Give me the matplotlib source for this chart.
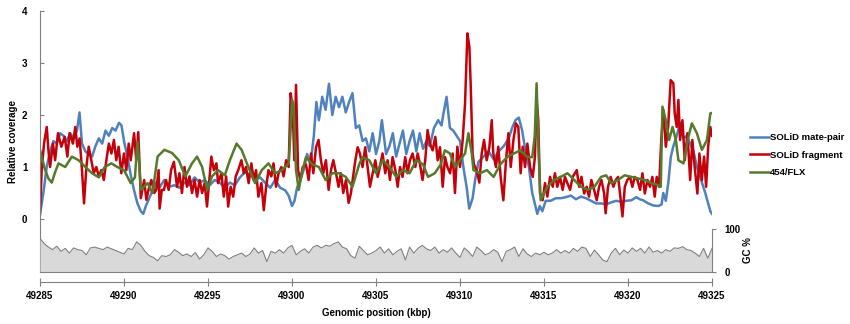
import matplotlib
matplotlib.use("Agg")
import matplotlib.pyplot as plt

plt.rcParams["font.family"] = ["Liberation Sans", "DejaVu Sans"]
plt.rcParams["font.weight"] = "bold"
plt.rcParams["font.size"] = 7

# -------- data --------

mate_pos = [49285.0, 49285.2, 49285.4, 49285.6, 49285.8, 49286.0, 49286.2, 49286.4, 49286.6, 49286.8,
            49287.0, 49287.2, 49287.35, 49287.5, 49287.7, 49287.9, 49288.1, 49288.3, 49288.5, 49288.7,
            49288.9, 49289.1, 49289.3, 49289.5, 49289.7, 49289.85, 49290.0, 49290.2, 49290.4, 49290.6,
            49290.8, 49291.0, 49291.15, 49291.3, 49291.5, 49291.7, 49291.9, 49292.1, 49292.4, 49292.7,
            49293.0, 49293.3, 49293.6, 49293.9, 49294.2, 49294.5, 49294.8, 49295.1, 49295.4, 49295.7,
            49296.0, 49296.3, 49296.6, 49296.9, 49297.2, 49297.5, 49297.8, 49298.1, 49298.4, 49298.7,
            49299.0, 49299.3, 49299.6, 49299.8, 49300.0, 49300.15, 49300.3, 49300.5, 49300.7, 49300.9,
            49301.1, 49301.3, 49301.45, 49301.6, 49301.8, 49302.0, 49302.2, 49302.4, 49302.6, 49302.8,
            49303.0, 49303.2, 49303.4, 49303.6, 49303.8, 49304.0, 49304.2, 49304.4, 49304.6, 49304.8,
            49305.0, 49305.2, 49305.35, 49305.6, 49305.8, 49306.0, 49306.2, 49306.4, 49306.6, 49306.8,
            49307.0, 49307.2, 49307.4, 49307.6, 49307.8, 49308.0, 49308.2, 49308.45, 49308.7, 49308.9,
            49309.0, 49309.2, 49309.4, 49309.6, 49309.8, 49310.0, 49310.2, 49310.4, 49310.55, 49310.75,
            49310.9, 49311.1, 49311.4, 49311.7, 49312.0, 49312.3, 49312.6, 49312.9, 49313.1, 49313.3,
            49313.5, 49313.7, 49313.9, 49314.1, 49314.3, 49314.45, 49314.6, 49314.75, 49314.9, 49315.1,
            49315.4, 49315.7, 49316.0, 49316.3, 49316.6, 49316.9, 49317.2, 49317.5, 49317.8, 49318.1,
            49318.4, 49318.7, 49319.0, 49319.3, 49319.6, 49319.9, 49320.2, 49320.5, 49320.7, 49320.9,
            49321.2, 49321.5, 49321.8, 49322.0, 49322.1, 49322.25, 49322.4, 49322.55, 49322.7, 49322.9,
            49323.1, 49323.3, 49323.5, 49323.7, 49323.9, 49324.1, 49324.3, 49324.6, 49324.9, 49325.0]
mate_cov = [0.1, 0.5, 1.0, 1.3, 1.5, 1.45, 1.65, 1.6, 1.5, 1.65,
            1.55, 1.7, 2.05, 1.45, 1.3, 1.25, 1.2, 1.4, 1.55, 1.45,
            1.7, 1.6, 1.75, 1.7, 1.85, 1.8, 1.5, 1.2, 0.85, 0.55,
            0.3, 0.15, 0.1, 0.25, 0.4, 0.55, 0.7, 0.6, 0.75, 0.62,
            0.65, 0.6, 0.7, 0.65, 0.8, 0.7, 0.75, 0.65, 0.75, 0.7,
            0.6, 0.7, 0.65, 0.8, 0.9, 0.85, 0.75, 0.8, 0.7, 0.6,
            0.75, 0.6, 0.55, 0.45, 0.25, 0.35, 0.6, 0.75, 0.95, 1.25,
            1.05, 1.6, 2.25, 1.9, 2.35, 2.1, 2.6, 2.0, 2.35, 2.15,
            2.35, 2.05, 2.25, 2.42, 1.75, 1.8, 1.5, 1.55, 1.3, 1.65,
            1.25, 1.5, 1.9, 1.25, 1.4, 1.65, 1.2, 1.45, 1.7, 1.25,
            1.5, 1.7, 1.3, 1.65, 1.35, 1.5, 1.4, 1.75, 1.9, 1.8,
            2.0, 2.35, 1.75, 1.7, 1.6, 1.5, 1.0, 0.6, 0.2, 0.4,
            0.75, 1.1, 1.2, 1.3, 1.15, 1.3, 1.4, 1.55, 1.75, 1.9,
            1.95, 1.7, 1.3, 1.0, 0.5, 0.3, 0.1, 0.25, 0.15, 0.35,
            0.35, 0.4, 0.4, 0.42, 0.45, 0.38, 0.43, 0.4, 0.35, 0.3,
            0.3, 0.28, 0.32, 0.35, 0.33, 0.35, 0.36, 0.42, 0.38, 0.36,
            0.3, 0.26, 0.25, 0.28, 0.5, 0.35, 0.7, 1.2, 1.4, 1.6,
            1.85, 1.55, 1.6, 1.45, 1.3, 1.0, 0.8, 0.5, 0.15, 0.1]

frag_pos = [49285.0, 49285.1, 49285.24, 49285.4, 49285.5, 49285.6, 49285.77, 49285.9, 49286.07, 49286.27,
            49286.47, 49286.63, 49286.76, 49286.96, 49287.1, 49287.22, 49287.36, 49287.5, 49287.62, 49287.76,
            49287.9, 49288.05, 49288.2, 49288.35, 49288.5, 49288.65, 49288.8, 49288.95, 49289.1, 49289.25,
            49289.4, 49289.54, 49289.68, 49289.84, 49290.0, 49290.14, 49290.28, 49290.4, 49290.6, 49290.73,
            49290.85, 49291.0, 49291.2, 49291.33, 49291.5, 49291.63, 49291.8, 49291.92, 49292.06, 49292.12,
            49292.25, 49292.38, 49292.5, 49292.66, 49292.8, 49292.97, 49293.16, 49293.3, 49293.45, 49293.6,
            49293.75, 49293.9, 49294.05, 49294.2, 49294.35, 49294.5, 49294.65, 49294.8, 49294.94, 49295.08,
            49295.2, 49295.35, 49295.5, 49295.6, 49295.8, 49295.94, 49296.08, 49296.2, 49296.35, 49296.5,
            49296.65, 49296.8, 49296.99, 49297.13, 49297.26, 49297.42, 49297.58, 49297.72, 49297.86, 49298.0,
            49298.18, 49298.32, 49298.46, 49298.6, 49298.77, 49298.9, 49299.05, 49299.2, 49299.37, 49299.5,
            49299.65, 49299.8, 49299.92, 49300.04, 49300.14, 49300.24, 49300.36, 49300.5, 49300.64, 49300.83,
            49300.99, 49301.13, 49301.27, 49301.43, 49301.58, 49301.72, 49301.86, 49302.02, 49302.18, 49302.32,
            49302.46, 49302.62, 49302.77, 49302.91, 49303.05, 49303.21, 49303.37, 49303.51, 49303.61, 49303.77,
            49303.91, 49304.04, 49304.2, 49304.36, 49304.5, 49304.64, 49304.8, 49304.96, 49305.1, 49305.23,
            49305.39, 49305.55, 49305.69, 49305.83, 49305.99, 49306.15, 49306.29, 49306.43, 49306.58, 49306.74,
            49306.88, 49307.02, 49307.18, 49307.34, 49307.48, 49307.62, 49307.77, 49307.93, 49308.07, 49308.21,
            49308.37, 49308.53, 49308.67, 49308.81, 49308.97, 49309.11, 49309.25, 49309.41, 49309.56, 49309.7,
            49309.84, 49310.0, 49310.16, 49310.3, 49310.44, 49310.56, 49310.64, 49310.75, 49310.83, 49310.99,
            49311.15, 49311.29, 49311.43, 49311.59, 49311.75, 49311.89, 49311.98, 49312.14, 49312.28, 49312.42,
            49312.58, 49312.74, 49312.88, 49313.02, 49313.18, 49313.33, 49313.47, 49313.61, 49313.73, 49313.87,
            49314.01, 49314.17, 49314.33, 49314.46, 49314.56, 49314.66, 49314.76, 49314.92, 49315.06, 49315.2,
            49315.36, 49315.52, 49315.65, 49315.79, 49315.95, 49316.11, 49316.25, 49316.39, 49316.55, 49316.71,
            49316.95, 49317.09, 49317.23, 49317.39, 49317.54, 49317.68, 49317.82, 49317.98, 49318.14, 49318.28,
            49318.42, 49318.58, 49318.67, 49318.81, 49318.97, 49319.13, 49319.27, 49319.41, 49319.57, 49319.67,
            49319.81, 49319.96, 49320.12, 49320.26, 49320.4, 49320.56, 49320.72, 49320.86, 49321.0, 49321.16,
            49321.31, 49321.45, 49321.59, 49321.71, 49321.85, 49321.99, 49322.11, 49322.25, 49322.39, 49322.54,
            49322.7, 49322.78, 49322.9, 49323.0, 49323.1, 49323.24, 49323.38, 49323.54, 49323.7, 49323.83,
            49323.97, 49324.13, 49324.25, 49324.39, 49324.53, 49324.65, 49324.77, 49324.9, 49325.0]
frag_cov = [0.1, 0.94, 1.45, 1.77, 1.33, 1.0, 1.45, 1.13, 1.65, 1.39,
            1.58, 1.2, 1.65, 1.45, 1.77, 1.39, 1.55, 0.94, 0.3, 1.0,
            1.39, 1.13, 0.88, 1.0, 0.82, 0.94, 0.75, 1.13, 1.45, 1.26,
            1.52, 1.13, 1.39, 0.88, 1.26, 0.94, 1.45, 1.13, 1.65, 1.13,
            1.67, 0.4, 0.75, 0.37, 0.62, 0.75, 0.5, 0.56, 0.94, 0.2,
            0.56, 0.56, 0.75, 0.56, 0.94, 1.1, 0.62, 0.88, 0.5, 1.0,
            0.62, 0.82, 0.5, 0.75, 0.43, 0.75, 0.5, 0.69, 0.24, 0.75,
            1.2, 0.94, 1.07, 0.69, 0.88, 0.43, 0.82, 0.24, 0.62, 0.43,
            0.82, 0.94, 1.13, 0.88, 1.0, 0.69, 1.07, 0.75, 0.94, 0.43,
            0.69, 0.17, 0.62, 0.94, 0.82, 1.07, 0.62, 0.88, 1.0, 0.82,
            1.13, 1.0, 2.42, 2.1, 1.13, 2.58, 0.94, 0.75, 1.0, 1.05,
            0.75, 1.26, 0.88, 1.38, 1.52, 1.13, 0.88, 1.13, 0.56, 0.94,
            1.13, 0.88, 0.62, 0.88, 0.5, 0.75, 0.31, 0.5, 0.75, 1.13,
            1.38, 1.26, 1.0, 1.38, 1.0, 0.62, 0.88, 1.13, 0.81, 1.0,
            1.26, 0.88, 1.13, 0.75, 1.19, 0.94, 0.62, 1.0, 0.81, 1.19,
            0.88, 1.13, 1.26, 1.0, 1.26, 1.05, 0.75, 1.13, 1.71, 1.45,
            1.32, 1.58, 1.13, 1.38, 0.62, 1.19, 1.0, 0.88, 1.26, 0.5,
            1.39, 1.0, 1.52, 2.22, 3.57, 3.31, 2.54, 1.26, 1.05, 0.94,
            0.7, 1.26, 1.52, 1.13, 1.39, 1.9, 1.26, 1.0, 1.39, 0.81,
            0.36, 1.13, 1.65, 1.0, 1.52, 1.84, 1.77, 0.88, 1.39, 1.0,
            1.45, 1.0, 0.81, 1.19, 2.29, 1.9, 0.5, 0.36, 0.69, 0.43,
            0.81, 0.62, 0.88, 0.62, 0.81, 0.56, 0.81, 0.69, 0.56, 0.81,
            0.94, 0.62, 0.81, 0.49, 0.62, 0.43, 0.75, 0.56, 0.36, 0.62,
            0.75, 0.49, 0.11, 0.62, 0.81, 0.62, 0.75, 0.81, 0.36, 0.05,
            0.62, 0.75, 0.81, 0.62, 0.81, 0.75, 0.56, 0.88, 0.49, 0.75,
            0.62, 0.81, 0.43, 0.81, 0.62, 1.58, 2.09, 1.39, 1.77, 2.67,
            2.61, 2.03, 1.77, 2.29, 1.52, 1.9, 1.13, 1.65, 0.75, 1.52,
            1.0, 0.49, 1.26, 0.75, 1.2, 0.62, 1.39, 1.77, 1.6]

flx_pos = [49285.0, 49285.3, 49285.5, 49285.7, 49285.9, 49286.1, 49286.5, 49286.9, 49287.3, 49287.7,
           49288.1, 49288.5, 49288.85, 49289.25, 49289.6, 49290.0, 49290.4, 49290.65, 49290.8, 49290.9,
           49291.0, 49291.4, 49291.7, 49292.0, 49292.4, 49292.86, 49293.26, 49293.65, 49294.05, 49294.35,
           49294.65, 49294.95, 49295.24, 49295.6, 49296.0, 49296.3, 49296.7, 49297.0, 49297.4, 49297.8,
           49298.2, 49298.6, 49299.0, 49299.4, 49299.8, 49299.9, 49300.0, 49300.1, 49300.24, 49300.4,
           49300.6, 49300.83, 49301.2, 49301.6, 49302.0, 49302.4, 49302.8, 49303.2, 49303.6, 49304.0,
           49304.2, 49304.6, 49305.0, 49305.4, 49305.8, 49306.2, 49306.6, 49307.0, 49307.4, 49307.8,
           49308.1, 49308.5, 49308.85, 49309.1, 49309.4, 49309.7, 49310.0, 49310.3, 49310.5, 49310.7,
           49310.8, 49311.2, 49311.6, 49312.0, 49312.4, 49312.8, 49313.2, 49313.6, 49314.0, 49314.3,
           49314.45, 49314.56, 49314.68, 49314.8, 49315.2, 49315.6, 49316.0, 49316.4, 49316.8, 49317.2,
           49317.6, 49318.0, 49318.4, 49318.7, 49319.0, 49319.4, 49319.8, 49320.2, 49320.6, 49321.0,
           49321.4, 49321.8, 49321.95, 49322.05, 49322.25, 49322.45, 49322.65, 49322.85, 49323.0, 49323.3,
           49323.6, 49323.8, 49324.1, 49324.4, 49324.7, 49324.9, 49325.0]
flx_cov = [1.33, 0.95, 0.78, 0.7, 0.9, 1.07, 1.0, 1.2, 1.13, 1.0,
           0.88, 0.8, 1.0, 1.07, 1.0, 0.94, 0.69, 0.8, 1.48, 1.1,
           0.56, 0.69, 0.5, 1.2, 1.33, 1.27, 1.13, 0.82, 1.07, 1.2,
           1.0, 0.56, 0.82, 0.94, 0.84, 1.13, 1.45, 1.33, 1.0, 0.69,
           0.94, 1.07, 0.88, 0.94, 1.07, 1.6, 2.29, 2.16, 0.94, 0.56,
           0.9, 1.19, 1.05, 1.0, 0.75, 0.88, 0.88, 0.81, 0.62, 1.05,
           1.19, 1.13, 0.88, 1.13, 1.0, 0.81, 0.94, 0.88, 1.13, 1.05,
           0.81, 0.88, 1.05, 1.32, 1.26, 1.0, 1.13, 1.26, 1.65, 1.26,
           0.94, 0.88, 0.94, 0.81, 1.05, 1.19, 1.26, 1.32, 1.19, 1.19,
           1.6, 2.61, 1.26, 0.36, 0.62, 0.75, 0.81, 0.88, 0.75, 0.62,
           0.56, 0.62, 0.81, 0.84, 0.69, 0.75, 0.84, 0.81, 0.78, 0.75,
           0.69, 0.65, 0.62, 2.16, 1.9, 1.52, 1.77, 1.52, 1.13, 1.07,
           1.58, 1.84, 1.65, 1.33, 1.52, 2.03, 2.04]

gc_pos = [49285 + 0.25 * i for i in range(161)]
gc_pct = [78, 66, 58, 52, 60, 48, 55, 44, 56, 52, 50, 40, 56, 58, 55, 52, 58, 54, 50, 46,
          42, 55, 52, 70, 62, 48, 38, 34, 26, 38, 36, 40, 52, 46, 38, 42, 36, 45, 30, 40,
          56, 48, 36, 42, 38, 30, 36, 40, 44, 36, 42, 56, 44, 50, 24, 48, 44, 52, 44, 56,
          62, 40, 48, 54, 44, 58, 62, 56, 62, 60, 66, 70, 58, 54, 38, 32, 60, 50, 40, 44,
          50, 58, 44, 54, 40, 48, 54, 28, 58, 44, 55, 62, 54, 50, 58, 44, 52, 46, 56, 44,
          34, 56, 48, 36, 58, 50, 40, 44, 52, 46, 24, 48, 52, 58, 36, 54, 42, 36, 44, 40,
          46, 40, 44, 52, 44, 50, 44, 55, 48, 58, 55, 36, 51, 40, 28, 24, 44, 55, 40, 51,
          44, 56, 48, 55, 44, 58, 46, 50, 44, 52, 48, 56, 55, 59, 52, 50, 44, 36, 55, 32, 55]

x_ticks = [49285, 49290, 49295, 49300, 49305, 49310, 49315, 49320, 49325]
cov_ticks = [0, 1, 2, 3, 4]
gc_ticks = [0, 100]

BLUE = "#4f81bd"
RED = "#c4000a"
GREEN = "#557a2c"
GREY = "#808080"

# -------- figure --------

fig = plt.figure(figsize=(8.5, 3.24), dpi=100)
L, W = 40 / 850, 672 / 850
B = (324 - 272) / 324

ax = fig.add_axes([L, B, W, 261 / 324])
ax.plot(mate_pos, mate_cov, color=BLUE, lw=1.8, label="SOLiD mate-pair")
ax.plot(frag_pos, frag_cov, color=RED, lw=1.8, label="SOLiD fragment")
ax.plot(flx_pos, flx_cov, color=GREEN, lw=1.8, label="454/FLX")
ax.set_xlim(49285, 49325)
ax.set_ylim(-53 / 52, 4)
ax.set_yticks(cov_ticks)
ax.set_xticks(x_ticks)
for s in ("top", "right"):
    ax.spines[s].set_visible(False)
ax.spines["left"].set_color(GREY)
ax.spines["bottom"].set_color(GREY)
ax.spines["bottom"].set_position(("outward", 7.5))
ax.tick_params(axis="x", direction="inout", length=6, color=GREY, pad=3, labelsize=7)
ax.tick_params(axis="y", direction="in", length=3, color=GREY, pad=9, labelsize=7)
ax.set_ylabel("Relative coverage", fontsize=7, fontweight="bold", labelpad=3)
ax.set_xlabel("Genomic position (kbp)", fontsize=7, fontweight="bold", labelpad=5)

# GC panel
gx = fig.add_axes([L, B, W, 43 / 324])
gx.set_facecolor("none")
gx.fill_between(gc_pos, gc_pct, 0, color="#d9d9d9", lw=0)
gx.plot(gc_pos, gc_pct, color=GREY, lw=0.8)
gx.set_xlim(49285, 49325)
gx.set_ylim(0, 100)
gx.set_xticks([])
gx.set_yticks(gc_ticks)
gx.yaxis.tick_right()
gx.yaxis.set_label_position("right")
for s in ("top", "left"):
    gx.spines[s].set_visible(False)
gx.spines["right"].set_color(GREY)
gx.spines["bottom"].set_color(GREY)
gx.tick_params(axis="y", direction="out", length=3, color=GREY, pad=6, labelsize=7)
gx.set_ylabel("GC %", fontsize=7, fontweight="bold", labelpad=2)

h, lab = ax.get_legend_handles_labels()
fig.legend(h, lab, loc="upper left", bbox_to_anchor=(750 / 850, 1 - 133 / 324),
           frameon=False, fontsize=6.8, handlelength=2.0, handletextpad=0.15,
           labelspacing=0.9, borderpad=0, borderaxespad=0)

fig.savefig("out.png", dpi=100)
